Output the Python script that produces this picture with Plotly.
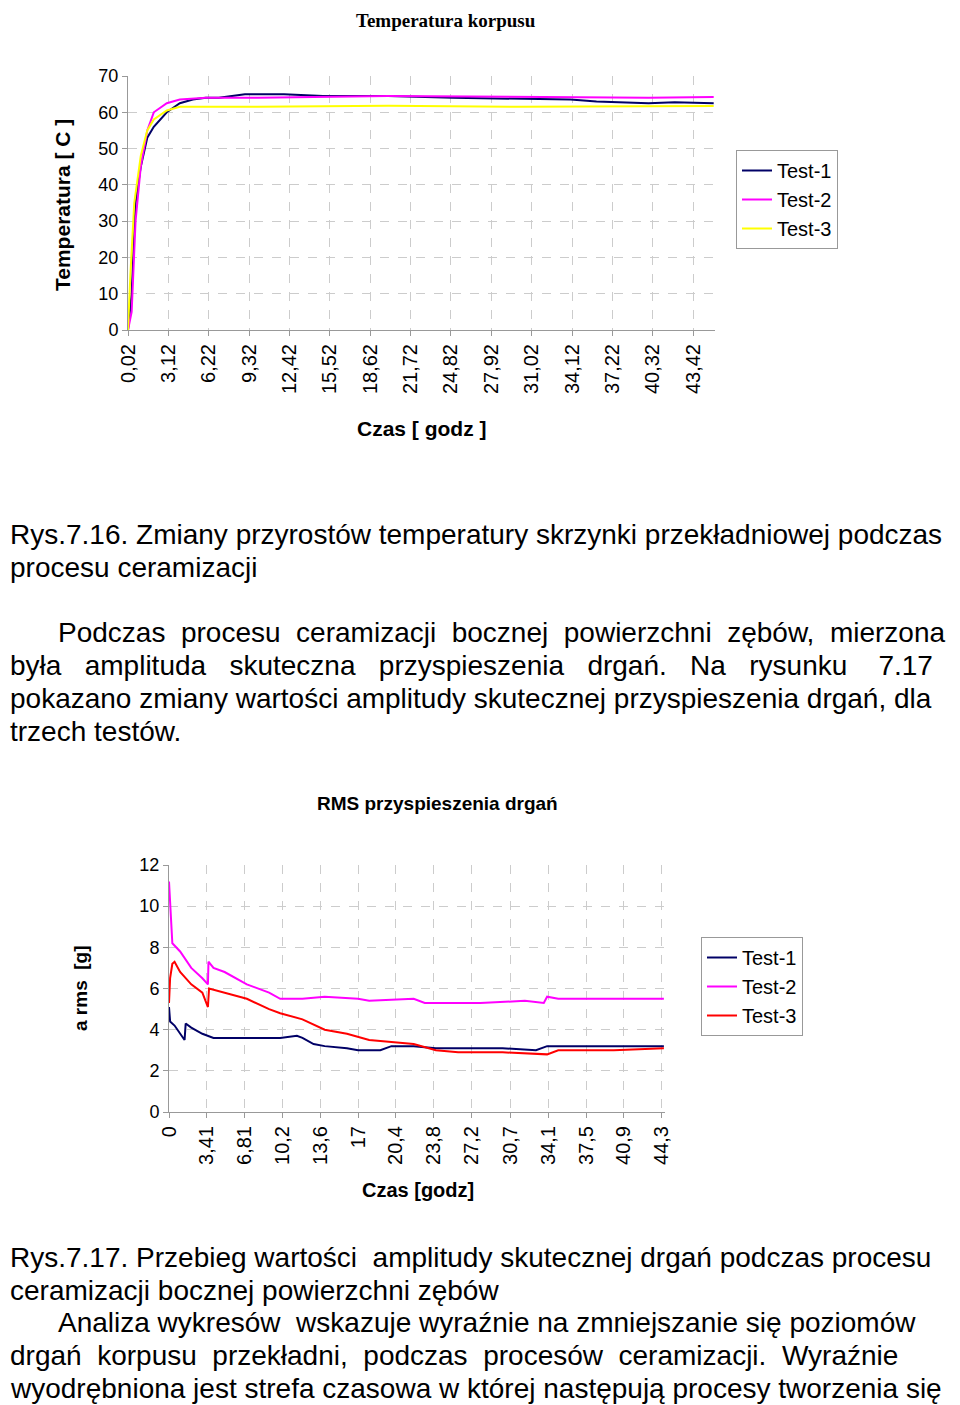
import plotly.graph_objects as go

# --- chart 1: Temperatura korpusu ---
t1_x = [0.02, 0.3, 0.6, 1.0, 1.5, 2.0, 3.0, 4.0, 5.0, 6.0, 7.0, 8.0, 9.0, 12.0, 15.0, 18.0, 20.0, 25.0, 30.0, 34.0, 36.0, 38.0, 40.0, 42.0, 45.0]
t1_y = [0, 10, 35, 45, 53, 56, 60, 62.5, 63.5, 64, 64, 64.5, 65, 65, 64.5, 64.5, 64.5, 64, 63.8, 63.5, 63, 62.8, 62.5, 62.8, 62.5]
t2_x = [0.02, 0.3, 0.6, 1.0, 1.5, 2.0, 3.0, 4.0, 6.0, 10.0, 20.0, 30.0, 40.0, 45.0]
t2_y = [0, 5, 30, 45, 55, 60, 62.5, 63.5, 64, 64, 64.5, 64.3, 64, 64.2]
t3_x = [0.02, 0.2, 0.5, 1.0, 1.5, 2.0, 3.0, 4.0, 10.0, 20.0, 30.0, 45.0]
t3_y = [0, 15, 35, 48, 55, 58, 60.5, 61.5, 61.5, 61.8, 61.5, 61.7]
temp_ticks = [0.02, 3.12, 6.22, 9.32, 12.42, 15.52, 18.62, 21.72, 24.82, 27.92, 31.02, 34.12, 37.22, 40.32, 43.42]

# --- chart 2: RMS przyspieszenia drgań ---
r1_x = [0, 0.1, 0.5, 1, 1.4, 1.5, 2, 3, 4, 6, 8, 10, 11.5, 12, 13, 14, 16, 17, 19, 20, 22, 24, 27, 30, 33, 34, 40, 44.5]
r1_y = [5.1, 4.4, 4.2, 3.8, 3.5, 4.3, 4.1, 3.8, 3.6, 3.6, 3.6, 3.6, 3.7, 3.6, 3.3, 3.2, 3.1, 3.0, 3.0, 3.2, 3.2, 3.1, 3.1, 3.1, 3.0, 3.2, 3.2, 3.2]
r2_x = [0, 0.1, 0.3, 1, 2, 3, 3.5, 3.55, 4, 5, 7, 9, 10, 12, 14, 17, 18, 22, 23, 28, 32, 33.7, 34, 35, 40, 44.5]
r2_y = [11.2, 10, 8.2, 7.8, 7.0, 6.5, 6.2, 7.3, 7.0, 6.8, 6.2, 5.8, 5.5, 5.5, 5.6, 5.5, 5.4, 5.5, 5.3, 5.3, 5.4, 5.3, 5.6, 5.5, 5.5, 5.5]
r3_x = [0, 0.1, 0.3, 0.5, 1, 2, 3, 3.5, 3.6, 5, 7, 9, 10, 12, 14, 16, 18, 20, 22, 24, 26, 30, 34, 35, 40, 44.5]
r3_y = [5.3, 6.5, 7.2, 7.3, 6.8, 6.2, 5.8, 5.1, 6.0, 5.8, 5.5, 5.0, 4.8, 4.5, 4.0, 3.8, 3.5, 3.4, 3.3, 3.0, 2.9, 2.9, 2.8, 3.0, 3.0, 3.1]
rms_ticks = [0, 3.41, 6.81, 10.2, 13.6, 17, 20.4, 23.8, 27.2, 30.7, 34.1, 37.5, 40.9, 44.3]

# the page puts the figure 8px in from the corner
OFF = 8
W = 952
H = 1397
def px(p):
    return max(p - OFF, 0) / W
def py(p):
    return 1 - (p - OFF) / H

FONT = "Liberation Sans, Arial, sans-serif"
fig = go.Figure()
fig.add_trace(go.Scatter(x=t1_x, y=t1_y, mode="lines", name="Test-1", line=dict(color="#000066", width=2), xaxis="x", yaxis="y", legend="legend"))
fig.add_trace(go.Scatter(x=t2_x, y=t2_y, mode="lines", name="Test-2", line=dict(color="#ff00ff", width=2), xaxis="x", yaxis="y", legend="legend"))
fig.add_trace(go.Scatter(x=t3_x, y=t3_y, mode="lines", name="Test-3", line=dict(color="#ffff00", width=2), xaxis="x", yaxis="y", legend="legend"))
fig.add_trace(go.Scatter(x=r1_x, y=r1_y, mode="lines", name="Test-1", line=dict(color="#000066", width=2), xaxis="x2", yaxis="y2", legend="legend2"))
fig.add_trace(go.Scatter(x=r2_x, y=r2_y, mode="lines", name="Test-2", line=dict(color="#ff00ff", width=2), xaxis="x2", yaxis="y2", legend="legend2"))
fig.add_trace(go.Scatter(x=r3_x, y=r3_y, mode="lines", name="Test-3", line=dict(color="#ff0000", width=2), xaxis="x2", yaxis="y2", legend="legend2"))

ax_common = dict(showline=True, linecolor="#999", ticks="outside", ticklen=5, tickcolor="#999",
                 showgrid=True, gridcolor="#ccc", griddash="dash", zeroline=False,
                 tickfont=dict(family=FONT, size=20, color="#000"))
fig.update_layout(
    width=W, height=H, margin=dict(l=0, r=0, t=0, b=0, autoexpand=False),
    paper_bgcolor="white", plot_bgcolor="white",
    font=dict(family=FONT, color="#000"),
    xaxis=dict(domain=[px(128), px(715)], range=[0.02, 45.1], tickvals=temp_ticks,
               ticktext=[str(v).replace(".", ",") for v in temp_ticks], tickangle=-90, anchor="y", **ax_common),
    yaxis=dict(domain=[py(330), py(76)], range=[0, 70], dtick=10, anchor="x", **ax_common),
    xaxis2=dict(domain=[px(169), px(665)], range=[0, 44.6], tickvals=rms_ticks,
                ticktext=[str(v).replace(".", ",") for v in rms_ticks], tickangle=-90, anchor="y2", **ax_common),
    yaxis2=dict(domain=[py(1112), py(865)], range=[0, 12], dtick=2, anchor="x2", **ax_common),
    legend=dict(x=px(736), y=py(150), xanchor="left", yanchor="top", bordercolor="#999", borderwidth=1,
                font=dict(size=20, family=FONT), tracegroupgap=0),
    legend2=dict(x=px(701), y=py(937), xanchor="left", yanchor="top", bordercolor="#999", borderwidth=1,
                 font=dict(size=20, family=FONT), tracegroupgap=0),
)
fig.update_yaxes(tickfont=dict(size=18))

def ann(text, x, y, size=28, xanchor="left", bold=False, angle=0, family=FONT):
    if bold:
        text = "<b>" + text + "</b>"
    fig.add_annotation(text=text, x=px(x), y=py(y), xref="paper", yref="paper", showarrow=False,
                       xanchor=xanchor, yanchor="middle", textangle=angle,
                       font=dict(size=size, family=family, color="#000"))

ann("Temperatura korpusu", 446, 20, size=19, xanchor="center", bold=True, family="Liberation Serif, Times New Roman, serif")
ann("Temperatura [ C ]", 62, 205, size=21, xanchor="center", bold=True, angle=-90)
ann("Czas [ godz ]", 422, 428, size=21, xanchor="center", bold=True)
ann("RMS przyspieszenia drgań", 437, 803, size=19, xanchor="center", bold=True)
ann("a rms  [g]", 80, 988, size=19, xanchor="center", bold=True, angle=-90)
ann("Czas [godz]", 418, 1190, size=20, xanchor="center", bold=True)

lines = [
    (0, 534, "Rys.7.16. Zmiany przyrostów temperatury skrzynki przekładniowej podczas"),
    (0, 567, "procesu ceramizacji"),
    (56, 632, "Podczas  procesu  ceramizacji  bocznej  powierzchni  zębów,  mierzona"),
    (0, 665, "była   amplituda   skuteczna   przyspieszenia   drgań.   Na   rysunku    7.17"),
    (0, 698, "pokazano zmiany wartości amplitudy skutecznej przyspieszenia drgań, dla"),
    (0, 731, "trzech testów."),
    (0, 1257, "Rys.7.17. Przebieg wartości  amplitudy skutecznej drgań podczas procesu"),
    (0, 1290, "ceramizacji bocznej powierzchni zębów"),
    (56, 1322, "Analiza wykresów  wskazuje wyraźnie na zmniejszanie się poziomów"),
    (0, 1355, "drgań  korpusu  przekładni,  podczas  procesów  ceramizacji.  Wyraźnie"),
    (0, 1388, "wyodrębniona jest strefa czasowa w której następują procesy tworzenia się"),
]
for x, y, t in lines:
    ann(t.replace("  ", "&nbsp; "), x, y)

fig.write_html("out.html")
